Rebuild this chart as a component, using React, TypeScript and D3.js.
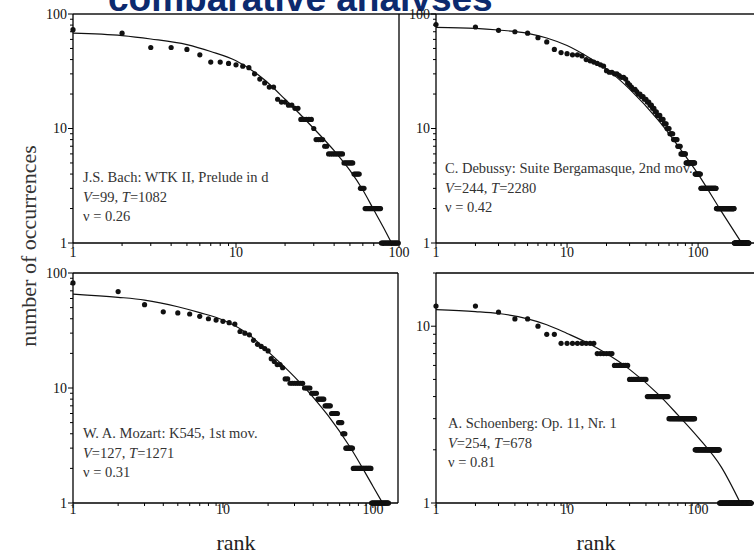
import React from 'react';
import * as d3 from 'd3';

// [count, first rank, last rank] — consecutive ranks that share a count
type Run = [number, number, number];
type Pt = [number, number]; // [rank, fitted count]

const bachRuns: Run[] = [
  [73, 1, 1], [68, 2, 2], [51, 3, 4], [49, 5, 5], [44, 6, 6], [38, 7, 8], [37, 9, 9], [36, 10, 10],
  [35, 11, 11], [34, 12, 12], [30, 13, 13], [27, 14, 14], [25, 15, 15], [23, 16, 17], [18, 18, 18],
  [17, 19, 20], [16, 21, 22], [15, 23, 24], [12, 25, 29], [10, 30, 30], [8, 31, 34], [7, 35, 36],
  [6, 37, 45], [5, 46, 52], [4, 53, 57], [3, 58, 61], [2, 62, 77], [1, 78, 99],
];
const bachFit: Pt[] = [
  [1, 68], [2, 64.7], [3, 60.5], [5, 54], [7, 47], [10, 39], [15, 26.5], [20, 18], [30, 10],
  [40, 6.4], [50, 4.3], [60, 2.9], [70, 1.95], [80, 1.38], [90, 1.0],
];

const debussyRuns: Run[] = [
  [81, 1, 1], [77, 2, 2], [72, 3, 3], [70, 4, 4], [68, 5, 5], [62, 6, 6], [57, 7, 7], [49, 8, 8],
  [46, 9, 9], [45, 10, 10], [44, 11, 12], [43, 13, 13], [40, 14, 14], [39, 15, 15], [38, 16, 16],
  [37, 17, 17], [36, 18, 18], [35, 19, 19], [32, 20, 20], [31, 21, 22], [30, 23, 24], [29, 25, 25],
  [28, 26, 27], [27, 28, 28], [25, 29, 29], [24, 30, 30], [23, 31, 31], [22, 32, 33], [21, 34, 34],
  [20, 35, 36], [19, 37, 38], [18, 39, 40], [17, 41, 42], [16, 43, 44], [15, 45, 46], [14, 47, 48],
  [13, 49, 51], [12, 52, 54], [11, 55, 57], [10, 58, 60], [9, 61, 64], [8, 65, 69], [7, 70, 73],
  [6, 74, 80], [5, 81, 94], [4, 95, 104], [3, 105, 137], [2, 138, 188], [1, 189, 244],
];
const debussyFit: Pt[] = [
  [1, 76.5], [2, 75], [3, 72.5], [5, 67.8], [7, 61.7], [10, 53], [15, 41], [20, 33], [30, 22.1],
  [50, 11.7], [70, 7.1], [100, 4.0], [150, 1.9], [215, 1.0],
];

const mozartRuns: Run[] = [
  [82, 1, 1], [69, 2, 2], [53, 3, 3], [46, 4, 4], [45, 5, 5], [44, 6, 6], [42, 7, 7], [40, 8, 8],
  [39, 9, 9], [38, 10, 10], [37, 11, 11], [36, 12, 12], [31, 13, 13], [30, 14, 14], [29, 15, 15],
  [26, 16, 16], [24, 17, 17], [23, 18, 18], [22, 19, 19], [21, 20, 20], [18, 21, 21], [17, 22, 22],
  [16, 23, 24], [15, 25, 25], [12, 26, 27], [11, 28, 34], [10, 35, 38], [9, 39, 42], [8, 43, 47],
  [7, 48, 52], [6, 53, 58], [5, 59, 62], [4, 63, 65], [3, 66, 73], [2, 74, 97], [1, 98, 127],
];
const mozartFit: Pt[] = [
  [1, 65.6], [2, 61.5], [3, 58.2], [5, 50.9], [7, 45.2], [10, 39], [15, 28.9], [20, 20.7],
  [30, 12.5], [40, 8.3], [50, 5.8], [70, 3.1], [100, 1.4], [116, 1.0],
];

const schoenbergRuns: Run[] = [
  [13, 1, 2], [12, 3, 3], [11, 4, 5], [10, 6, 6], [9, 7, 8], [8, 9, 16], [7, 17, 22], [6, 23, 29],
  [5, 30, 40], [4, 41, 59], [3, 60, 94], [2, 95, 145], [1, 146, 254],
];
const schoenbergFit: Pt[] = [
  [1, 12.4], [2, 12.1], [3, 11.8], [5, 11.0], [7, 10.2], [10, 9.1], [15, 7.9], [20, 7.0],
  [30, 5.7], [50, 4.1], [70, 3.15], [100, 2.35], [150, 1.6], [210, 1.0],
];

const pieces = [
  'J.S. Bach: WTK II, Prelude in d',
  'C. Debussy: Suite Bergamasque, 2nd mov.',
  'W. A. Mozart: K545, 1st mov.',
  'A. Schoenberg: Op. 11, Nr. 1',
];
const vocab = [99, 244, 127, 254];
const tokens = [1082, 2280, 1271, 678];
const nus = ['0.26', '0.42', '0.31', '0.81'];
const xMax = [100, 267, 147, 267];
const yMax = [100, 100, 100, 20];

// pixel layout of each panel: left, right, top, bottom, label offset, note position
const layout = [
  { x0: 73, x1: 399, y0: 14, y1: 243, xl: 14, nx: 83, ny: 182 },
  { x0: 436, x1: 754, y0: 14, y1: 243, xl: 14, nx: 445, ny: 173 },
  { x0: 73, x1: 398, y0: 273, y1: 503, xl: 11, nx: 83, ny: 438 },
  { x0: 436, x1: 754, y0: 273, y1: 503, xl: 11, nx: 448, ny: 428 },
];

const allRuns = [bachRuns, debussyRuns, mozartRuns, schoenbergRuns];
const allFits = [bachFit, debussyFit, mozartFit, schoenbergFit];

const serif = '"Liberation Serif", "Times New Roman", serif';

const expand = (runs: Run[]) =>
  runs.flatMap(([c, a, b]) => d3.range(a, b + 1).map(r => ({ rank: r, count: c })));

const isMajor = (t: number) => Math.abs(Math.log10(t) - Math.round(Math.log10(t))) < 1e-9;

function Panel({ i }: { i: number }) {
  const L = layout[i];
  const x = d3.scaleLog().domain([1, xMax[i]]).range([L.x0, L.x1]);
  const y = d3.scaleLog().domain([1, yMax[i]]).range([L.y1, L.y0]);
  const pts = expand(allRuns[i]);
  const line = d3.line<Pt>()
    .x(d => x(d[0]))
    .y(d => y(d[1]))
    .curve(d3.curveMonotoneX);
  const xt = x.ticks();
  const yt = y.ticks();

  return (
    <g>
      {/* frame */}
      <line x1={L.x0} x2={L.x0} y1={L.y0} y2={L.y1} stroke="#000" strokeWidth={1.3} />
      <line x1={L.x0} x2={L.x1} y1={L.y1} y2={L.y1} stroke="#000" strokeWidth={1.3} />
      {i >= 2 && <line x1={L.x0} x2={L.x1} y1={L.y0} y2={L.y0} stroke="#000" strokeWidth={1.3} />}
      {i % 2 === 0 && <line x1={L.x1} x2={L.x1} y1={L.y0} y2={L.y1} stroke="#000" strokeWidth={1.3} />}

      {xt.map(t => (
        <line key={'xt' + t} x1={x(t)} x2={x(t)} y1={L.y1} y2={L.y1 + (isMajor(t) ? 5 : 3)}
          stroke="#000" strokeWidth={1} />
      ))}
      {xt.filter(isMajor).map(t => (
        <text key={'xl' + t} x={x(t)} y={L.y1 + L.xl} textAnchor="middle" fontSize={14}
          fontFamily={serif} fill="#111">{t}</text>
      ))}
      {yt.map(t => (
        <line key={'yt' + t} x1={L.x0} x2={L.x0 - (isMajor(t) ? 5 : 3)} y1={y(t)} y2={y(t)}
          stroke="#000" strokeWidth={1} />
      ))}
      {yt.filter(isMajor).map(t => (
        <text key={'yl' + t} x={L.x0 - 6} y={y(t)} dy="0.35em" textAnchor="end" fontSize={14}
          fontFamily={serif} fill="#111">{t}</text>
      ))}

      <path d={line(allFits[i]) || ''} fill="none" stroke="#111" strokeWidth={1.2} />
      {pts.map(p => (
        <circle key={p.rank} cx={x(p.rank)} cy={y(p.count)} r={2.6} fill="#111" />
      ))}

      <g fontFamily={serif} fontSize={14.5} fill="#333">
        <text x={L.nx} y={L.ny}>{pieces[i]}</text>
        <text x={L.nx} y={L.ny + 19.5}>
          <tspan fontStyle="italic">V</tspan>={vocab[i]}, <tspan fontStyle="italic">T</tspan>={tokens[i]}
        </text>
        <text x={L.nx} y={L.ny + 39}>ν = {nus[i]}</text>
      </g>
    </g>
  );
}

export default function App() {
  return (
    <div style={{ position: 'absolute', left: 0, top: 0 }}>
      <svg width={754} height={554} style={{ display: 'block' }}>
        <rect width={754} height={554} fill="#fff" />
        <text x={108} y={11} fontFamily='"Liberation Sans", Arial, sans-serif' fontWeight="bold"
          fontSize={37} fill="#0c2a6e">comparative analyses</text>
        <rect x={0} y={11} width={754} height={543} fill="#fff" />
        <line x1={73} x2={754} y1={14} y2={14} stroke="#505050" strokeWidth={2} />
        {layout.map((_, i) => <Panel key={i} i={i} />)}
        <text transform="translate(36,246) rotate(-90)" textAnchor="middle" fontFamily={serif}
          fontSize={22} fill="#333">number of occurrences</text>
        <text x={236} y={550} textAnchor="middle" fontFamily={serif} fontSize={22} fill="#222">rank</text>
        <text x={596} y={550} textAnchor="middle" fontFamily={serif} fontSize={22} fill="#222">rank</text>
      </svg>
    </div>
  );
}
